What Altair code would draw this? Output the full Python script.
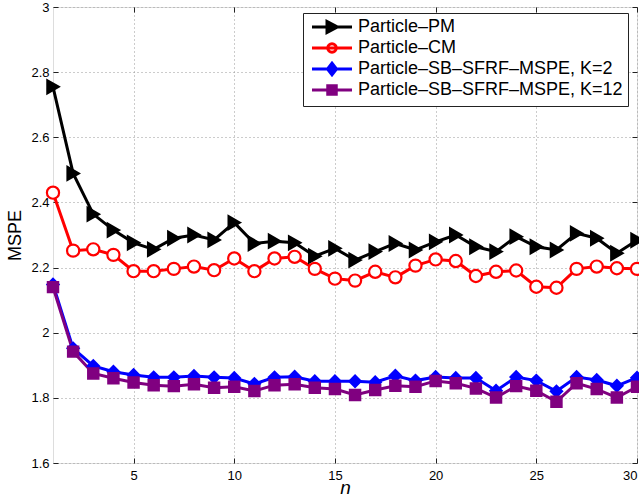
import altair as alt
import pandas as pd

n_vals = list(range(1, 31))

pm = [2.755, 2.489, 2.364, 2.315, 2.276, 2.256, 2.29, 2.30, 2.285, 2.338,
      2.274, 2.281, 2.276, 2.235, 2.259, 2.223, 2.249, 2.274, 2.254, 2.279,
      2.30, 2.264, 2.249, 2.295, 2.264, 2.254, 2.305, 2.29, 2.244, 2.284]
cm = [2.43, 2.252, 2.256, 2.239, 2.189, 2.189, 2.196, 2.203, 2.192, 2.228,
      2.189, 2.228, 2.233, 2.196, 2.166, 2.16, 2.187, 2.17, 2.206, 2.225,
      2.22, 2.174, 2.187, 2.191, 2.141, 2.138, 2.196, 2.203, 2.198, 2.196]
k2 = [2.148, 1.952, 1.898, 1.88, 1.87, 1.863, 1.863, 1.867, 1.863, 1.861,
      1.843, 1.863, 1.865, 1.851, 1.851, 1.851, 1.848, 1.868, 1.853, 1.864,
      1.861, 1.861, 1.822, 1.864, 1.853, 1.82, 1.864, 1.855, 1.837, 1.862]
k12 = [2.14, 1.942, 1.875, 1.86, 1.847, 1.839, 1.836, 1.842, 1.831, 1.834,
       1.821, 1.839, 1.842, 1.831, 1.827, 1.809, 1.824, 1.837, 1.834, 1.852,
       1.845, 1.829, 1.801, 1.836, 1.822, 1.788, 1.845, 1.827, 1.801, 1.834]

series_names = [
    "Particle\u2013PM",
    "Particle\u2013CM",
    "Particle\u2013SB\u2013SFRF\u2013MSPE, K=2",
    "Particle\u2013SB\u2013SFRF\u2013MSPE, K=12",
]
series_values = [pm, cm, k2, k12]

x_ticks = [5, 10, 15, 20, 25, 30]
y_ticks = [1.6, 1.8, 2.0, 2.2, 2.4, 2.6, 2.8, 3.0]

stroke_colors = ["#000000", "#ff0000", "#0000ff", "#800080"]
fill_colors = ["#000000", "#ffffff", "#0000ff", "#800080"]
plot_shapes = ["triangle-right", "circle", "diamond", "square"]
marker_sizes = [170, 105, 120, 95]
legend_shapes = [
    "M-4,0L4,0M1.1,0L-1,1.1L-1,-1.1Z",
    "M-4,0L4,0M0.85,0A0.85,0.85,0,1,1,-0.85,0A0.85,0.85,0,1,1,0.85,0Z",
    "M-4,0L4,0M0,-1.15L0.9,0L0,1.15L-0.9,0Z",
    "M-4,0L4,0M-0.85,-0.85L0.85,-0.85L0.85,0.85L-0.85,0.85Z",
]

rows = []
for name, vals in zip(series_names, series_values):
    for i, v in zip(n_vals, vals):
        rows.append({"n": i, "v": v, "s": name})
df = pd.DataFrame(rows)

FONT = "Liberation Sans"
x_scale = alt.Scale(domain=[1, 30], nice=False)
y_scale = alt.Scale(domain=[1.6, 3.0], nice=False, zero=False)

x_main = alt.X(
    "n:Q", scale=x_scale,
    axis=alt.Axis(values=x_ticks, title="n", titleFontStyle="italic",
                  titleFontSize=19, titleFontWeight="normal", titlePadding=-4,
                  labelFontSize=13, labelPadding=6, ticks=False, domain=False,
                  grid=True, gridDash=[1, 3], gridColor="#999999", labelColor="#000",
                  titleColor="#000", labelFont=FONT, titleFont=FONT, orient="bottom"),
)
y_main = alt.Y(
    "v:Q", scale=y_scale,
    axis=alt.Axis(values=y_ticks, format="~g", title="MSPE",
                  titleFontSize=18, titleFontWeight="normal", titlePadding=6,
                  labelFontSize=13, labelPadding=4, ticks=False, domain=False,
                  grid=True, gridDash=[1, 3], gridColor="#999999", labelColor="#000",
                  titleColor="#000", labelFont=FONT, titleFont=FONT, orient="left"),
)


def tick_axis(vals, orient):
    return alt.Axis(values=vals, orient=orient, labels=False, title=None, grid=False,
                    domain=False, ticks=True, tickSize=5, offset=-5,
                    tickColor="#222222", tickWidth=1)


x_in_bottom = alt.X("n:Q", scale=x_scale, axis=tick_axis(x_ticks, "bottom"))
y_in_left = alt.Y("v:Q", scale=y_scale, axis=tick_axis(y_ticks, "left"))
x_in_top = alt.X("n:Q", scale=x_scale, axis=tick_axis(x_ticks, "top"))
y_in_right = alt.Y("v:Q", scale=y_scale, axis=tick_axis(y_ticks, "right"))

base = alt.Chart(df).transform_calculate(
    so="indexof(" + str(series_names) + ", datum.s)"
)

lines = base.mark_line(strokeWidth=3).encode(
    x=x_main, y=y_main,
    stroke=alt.Stroke("s:N", scale=alt.Scale(domain=series_names, range=stroke_colors), legend=None),
    detail="s:N",
)

points = base.mark_point(filled=True, opacity=1, strokeWidth=2.2).encode(
    x=x_in_bottom, y=y_in_left,
    stroke=alt.Stroke("s:N", scale=alt.Scale(domain=series_names, range=stroke_colors), legend=None),
    fill=alt.Fill("s:N", scale=alt.Scale(domain=series_names, range=fill_colors), legend=None),
    shape=alt.Shape("s:N", scale=alt.Scale(domain=series_names, range=plot_shapes), legend=None),
    size=alt.Size("s:N", scale=alt.Scale(domain=series_names, range=marker_sizes), legend=None),
    order=alt.Order("so:Q"),
)

legend_cfg = dict(
    title=None, orient="none", legendX=250, legendY=6,
    strokeColor="#222222", fillColor="#ffffff", padding=5,
    labelFontSize=18, labelFont=FONT, labelColor="#000", labelLimit=0,
    symbolSize=100, symbolStrokeWidth=3, symbolOffset=15, labelOffset=17,
    rowPadding=-2,
)

legend_layer = base.transform_filter("datum.n < 0").mark_point(filled=True, opacity=1).encode(
    x=x_in_top, y=y_in_right,
    stroke=alt.Stroke("s:N", scale=alt.Scale(domain=series_names, range=stroke_colors), legend=alt.Legend(**legend_cfg)),
    fill=alt.Fill("s:N", scale=alt.Scale(domain=series_names, range=fill_colors), legend=alt.Legend(**legend_cfg)),
    shape=alt.Shape("s:N", scale=alt.Scale(domain=series_names, range=legend_shapes), legend=alt.Legend(**legend_cfg)),
)

chart = alt.layer(lines, points, legend_layer).resolve_scale(
    shape="independent", fill="independent", stroke="independent", size="independent"
).resolve_axis(
    x="independent", y="independent"
).properties(
    width=584, height=456,
    autosize=alt.AutoSizeParams(type="none"),
    padding={"left": 53, "top": 7, "right": 2, "bottom": 40},
).configure_view(
    stroke="#222222", strokeWidth=1.2
).configure(background="white")

chart.save("out.html", embed_options={"renderer": "svg", "actions": False})
